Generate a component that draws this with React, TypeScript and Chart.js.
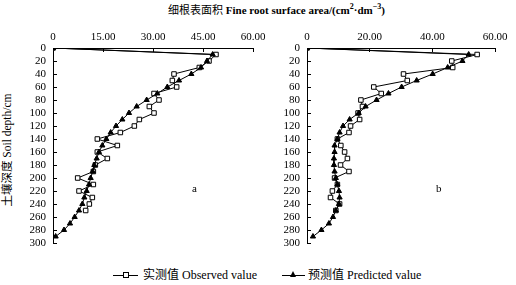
import React, { useEffect, useRef } from "react";
import { Chart, registerables } from "chart.js";

Chart.register(...registerables);

// ---------- data ----------
const obsDepthA = [0, 10, 20, 30, 40, 50, 60, 70, 80, 90, 100, 110, 120, 130, 140, 150, 160, 170, 180, 190, 200, 210, 220, 230, 240, 250];
const observedA = [0, 48.9, 46.8, 43.9, 36.3, 35.8, 37.1, 30.3, 31.8, 28.9, 30.3, 25.9, 24.4, 20.2, 13.3, 19.3, 13.3, 16.3, 12.7, 12.1, 7.4, 12.1, 7.8, 11.8, 10.9, 9.8];
const predDepthA = [0, 10, 20, 30, 40, 50, 60, 70, 80, 90, 100, 110, 120, 130, 140, 150, 160, 170, 180, 190, 200, 210, 220, 230, 240, 250, 260, 270, 280, 290];
const predictedA = [0, 47.9, 46.2, 44.4, 41.5, 37.8, 34.3, 31.3, 28.1, 25.1, 22.8, 20.8, 18.9, 17.3, 16.0, 14.8, 13.8, 13.1, 12.4, 11.9, 11.3, 10.8, 10.1, 9.4, 8.8, 7.8, 6.5, 5.1, 3.3, 0.8];

const obsDepthB = [0, 10, 20, 30, 40, 50, 60, 70, 80, 90, 100, 110, 120, 130, 140, 150, 160, 170, 180, 190, 200, 210, 220, 230, 240, 250];
const observedB = [0, 54.3, 46.2, 46.5, 30.8, 32.0, 21.3, 23.7, 17.2, 17.7, 16.3, 16.8, 13.9, 13.4, 9.7, 10.8, 12.0, 12.9, 10.7, 13.4, 8.8, 9.7, 8.1, 7.5, 10.4, 9.2];
const predDepthB = [0, 10, 20, 30, 40, 50, 60, 70, 80, 90, 100, 110, 120, 130, 140, 150, 160, 170, 180, 190, 200, 210, 220, 230, 240, 250, 260, 270, 280, 290];
const predictedB = [0, 51.6, 49.6, 44.9, 40.1, 35.0, 30.2, 26.0, 22.2, 18.7, 16.5, 13.6, 11.5, 10.4, 9.7, 8.8, 8.8, 8.6, 8.6, 8.8, 9.2, 9.7, 10.2, 10.4, 10.2, 9.2, 8.3, 7.0, 4.6, 1.9];

const xMax = 60;
const xStepA = 15;
const xStepB = 20;
const yMax = 300;
const yStep = 20;

const titleCn = "细根表面积";
const titleEn = " Fine root surface area/(cm";
const yLabelText = "土壤深度 Soil depth/cm";
const legendObserved = "实测值 Observed value";
const legendPredicted = "预测值 Predicted value";

const FAMILY = "'Liberation Serif', 'Times New Roman', 'Noto Sans CJK SC', serif";

function makeConfig(obsD: number[], obs: number[], predD: number[], pred: number[], step: number, yWidth: number, padRight: number, padBottom: number): any {
  const font = { family: FAMILY, size: 11 };
  return {
    type: "line",
    data: {
      datasets: [
        {
          label: "pred",
          data: pred.map((v, i) => ({ x: v, y: predD[i] })),
          borderColor: "#000",
          borderWidth: 1,
          backgroundColor: "#000",
          pointStyle: "triangle",
          pointRadius: 3,
          pointBorderWidth: 1,
          pointBorderColor: "#000",
          pointBackgroundColor: "#000",
          tension: 0,
        },
        {
          label: "obs",
          data: obs.map((v, i) => ({ x: v, y: obsD[i] })),
          borderColor: "#000",
          borderWidth: 1,
          backgroundColor: "#fff",
          pointStyle: "rect",
          pointRadius: 3.2,
          pointBorderWidth: 1,
          pointBorderColor: "#000",
          pointBackgroundColor: "#fff",
          tension: 0,
        },
      ],
    },
    options: {
      animation: false,
      responsive: false,
      maintainAspectRatio: false,
      layout: { padding: { left: 0, top: 0, right: padRight, bottom: padBottom } },
      plugins: { legend: { display: false }, tooltip: { enabled: false } },
      scales: {
        x: {
          type: "linear",
          position: "top",
          min: 0,
          max: xMax,
          ticks: {
            stepSize: step,
            autoSkip: false,
            maxRotation: 0,
            font,
            color: "#000",
            padding: 8,
            callback: (v: number) => (v === 0 ? "0" : Number(v).toFixed(2)),
          },
          grid: { drawOnChartArea: false, tickLength: -4, color: "#000", lineWidth: 1 },
          border: { color: "#000", width: 1 },
          afterFit: (s: any) => {
            s.height = 18;
            s.paddingLeft = 0;
            s.paddingRight = 0;
          },
        },
        y: {
          type: "linear",
          reverse: true,
          min: 0,
          max: yMax,
          ticks: { stepSize: yStep, autoSkip: false, font, color: "#000", padding: 11 },
          grid: { drawOnChartArea: false, tickLength: -4, color: "#000", lineWidth: 1 },
          border: { color: "#000", width: 1 },
          afterFit: (s: any) => {
            s.width = yWidth;
            s.paddingTop = 0;
            s.paddingBottom = 0;
          },
        },
      },
    },
  };
}

function Panel(props: { left: number; width: number; cfg: any }) {
  const ref = useRef<HTMLCanvasElement | null>(null);
  useEffect(() => {
    if (!ref.current) return;
    const chart = new Chart(ref.current, props.cfg);
    return () => chart.destroy();
  }, []);
  return (
    <canvas
      ref={ref}
      width={props.width}
      height={225}
      style={{ position: "absolute", left: props.left, top: 30, width: props.width, height: 225 }}
    />
  );
}

export default function App() {
  const cfgA = makeConfig(obsDepthA, observedA, predDepthA, predictedA, xStepA, 53, 27, 12);
  const cfgB = makeConfig(obsDepthB, observedB, predDepthB, predictedB, xStepB, 52, 21, 12);
  const textBase: React.CSSProperties = { position: "absolute", fontFamily: FAMILY, color: "#000", whiteSpace: "nowrap", lineHeight: 1 };
  return (
    <div style={{ position: "absolute", left: 0, top: 0, width: 516, height: 285, background: "#fff", overflow: "hidden" }}>
      <div style={{ ...textBase, left: 0, width: 553, top: 3, textAlign: "center", fontSize: 11 }}>
        <span style={{ fontWeight: "normal" }}>{titleCn}</span>
        <span style={{ fontWeight: "bold" }}>
          {titleEn}
          <sup style={{ fontSize: 8 }}>2</sup>·dm<sup style={{ fontSize: 8 }}>−3</sup>)
        </span>
      </div>
      <div
        style={{
          ...textBase,
          left: 8,
          top: 150,
          fontSize: 11.5,
          transform: "translate(-50%, -50%) rotate(-90deg)",
        }}
      >
        {yLabelText}
      </div>
      <Panel left={0} width={280} cfg={cfgA} />
      <Panel left={255} width={261} cfg={cfgB} />
      <div style={{ ...textBase, left: 192, top: 183, fontSize: 11 }}>a</div>
      <div style={{ ...textBase, left: 436, top: 183, fontSize: 11 }}>b</div>
      {/* legend */}
      <div style={{ position: "absolute", left: 113, top: 275, width: 25, borderTop: "1px solid #000" }} />
      <div style={{ position: "absolute", left: 123, top: 272, width: 6, height: 6, border: "1px solid #000", background: "#fff", boxSizing: "border-box" }} />
      <div style={{ ...textBase, left: 143, top: 269, fontSize: 12 }}>{legendObserved}</div>
      <div style={{ position: "absolute", left: 282, top: 275, width: 23, borderTop: "1px solid #000" }} />
      <div
        style={{
          position: "absolute",
          left: 290,
          top: 271,
          width: 0,
          height: 0,
          borderLeft: "3px solid transparent",
          borderRight: "3px solid transparent",
          borderBottom: "6px solid #000",
        }}
      />
      <div style={{ ...textBase, left: 308, top: 269, fontSize: 12 }}>{legendPredicted}</div>
    </div>
  );
}
